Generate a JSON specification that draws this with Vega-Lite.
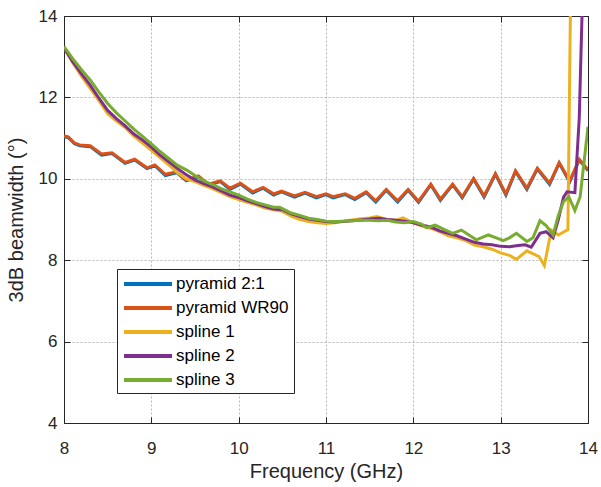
{
  "$schema": "https://vega.github.io/schema/vega-lite/v6.json",
  "width": 524,
  "height": 407,
  "autosize": "none",
  "padding": {"left": 64, "top": 16, "right": 13, "bottom": 64},
  "background": "white",
  "config": {
    "font": "Liberation Sans",
    "view": {"stroke": "#262626", "strokeWidth": 1}
  },
  "datasets": {
    "d": [
      {"f": 8.0, "s": "pyramid 2:1", "v": 11.04}, {"f": 8.05, "s": "pyramid 2:1", "v": 11.01}, {"f": 8.12, "s": "pyramid 2:1", "v": 10.86}, {"f": 8.18, "s": "pyramid 2:1", "v": 10.81}, {"f": 8.3, "s": "pyramid 2:1", "v": 10.79}, {"f": 8.43, "s": "pyramid 2:1", "v": 10.58}, {"f": 8.55, "s": "pyramid 2:1", "v": 10.62}, {"f": 8.7, "s": "pyramid 2:1", "v": 10.38}, {"f": 8.81, "s": "pyramid 2:1", "v": 10.46}, {"f": 8.95, "s": "pyramid 2:1", "v": 10.25}, {"f": 9.04, "s": "pyramid 2:1", "v": 10.32}, {"f": 9.16, "s": "pyramid 2:1", "v": 10.08}, {"f": 9.29, "s": "pyramid 2:1", "v": 10.15}, {"f": 9.4, "s": "pyramid 2:1", "v": 9.95}, {"f": 9.54, "s": "pyramid 2:1", "v": 10.05}, {"f": 9.65, "s": "pyramid 2:1", "v": 9.84}, {"f": 9.79, "s": "pyramid 2:1", "v": 9.93}, {"f": 9.9, "s": "pyramid 2:1", "v": 9.74}, {"f": 10.02, "s": "pyramid 2:1", "v": 9.87}, {"f": 10.16, "s": "pyramid 2:1", "v": 9.65}, {"f": 10.28, "s": "pyramid 2:1", "v": 9.77}, {"f": 10.4, "s": "pyramid 2:1", "v": 9.6}, {"f": 10.49, "s": "pyramid 2:1", "v": 9.68}, {"f": 10.64, "s": "pyramid 2:1", "v": 9.55}, {"f": 10.76, "s": "pyramid 2:1", "v": 9.65}, {"f": 10.89, "s": "pyramid 2:1", "v": 9.53}, {"f": 11.0, "s": "pyramid 2:1", "v": 9.61}, {"f": 11.08, "s": "pyramid 2:1", "v": 9.53}, {"f": 11.22, "s": "pyramid 2:1", "v": 9.61}, {"f": 11.33, "s": "pyramid 2:1", "v": 9.49}, {"f": 11.46, "s": "pyramid 2:1", "v": 9.66}, {"f": 11.57, "s": "pyramid 2:1", "v": 9.43}, {"f": 11.69, "s": "pyramid 2:1", "v": 9.72}, {"f": 11.82, "s": "pyramid 2:1", "v": 9.43}, {"f": 11.94, "s": "pyramid 2:1", "v": 9.72}, {"f": 12.06, "s": "pyramid 2:1", "v": 9.42}, {"f": 12.2, "s": "pyramid 2:1", "v": 9.85}, {"f": 12.31, "s": "pyramid 2:1", "v": 9.47}, {"f": 12.45, "s": "pyramid 2:1", "v": 9.85}, {"f": 12.56, "s": "pyramid 2:1", "v": 9.53}, {"f": 12.69, "s": "pyramid 2:1", "v": 9.99}, {"f": 12.81, "s": "pyramid 2:1", "v": 9.55}, {"f": 12.94, "s": "pyramid 2:1", "v": 10.11}, {"f": 13.06, "s": "pyramid 2:1", "v": 9.6}, {"f": 13.17, "s": "pyramid 2:1", "v": 10.18}, {"f": 13.3, "s": "pyramid 2:1", "v": 9.74}, {"f": 13.42, "s": "pyramid 2:1", "v": 10.24}, {"f": 13.56, "s": "pyramid 2:1", "v": 9.86}, {"f": 13.67, "s": "pyramid 2:1", "v": 10.38}, {"f": 13.79, "s": "pyramid 2:1", "v": 9.92}, {"f": 13.9, "s": "pyramid 2:1", "v": 10.46}, {"f": 14.0, "s": "pyramid 2:1", "v": 10.2},

      {"f": 8.0, "s": "pyramid WR90", "v": 11.05}, {"f": 8.05, "s": "pyramid WR90", "v": 11.03}, {"f": 8.12, "s": "pyramid WR90", "v": 10.88}, {"f": 8.18, "s": "pyramid WR90", "v": 10.83}, {"f": 8.3, "s": "pyramid WR90", "v": 10.81}, {"f": 8.43, "s": "pyramid WR90", "v": 10.61}, {"f": 8.55, "s": "pyramid WR90", "v": 10.64}, {"f": 8.7, "s": "pyramid WR90", "v": 10.4}, {"f": 8.81, "s": "pyramid WR90", "v": 10.48}, {"f": 8.95, "s": "pyramid WR90", "v": 10.27}, {"f": 9.04, "s": "pyramid WR90", "v": 10.34}, {"f": 9.16, "s": "pyramid WR90", "v": 10.11}, {"f": 9.29, "s": "pyramid WR90", "v": 10.17}, {"f": 9.4, "s": "pyramid WR90", "v": 9.97}, {"f": 9.54, "s": "pyramid WR90", "v": 10.07}, {"f": 9.65, "s": "pyramid WR90", "v": 9.87}, {"f": 9.79, "s": "pyramid WR90", "v": 9.95}, {"f": 9.9, "s": "pyramid WR90", "v": 9.77}, {"f": 10.02, "s": "pyramid WR90", "v": 9.89}, {"f": 10.16, "s": "pyramid WR90", "v": 9.68}, {"f": 10.28, "s": "pyramid WR90", "v": 9.79}, {"f": 10.4, "s": "pyramid WR90", "v": 9.63}, {"f": 10.49, "s": "pyramid WR90", "v": 9.7}, {"f": 10.64, "s": "pyramid WR90", "v": 9.58}, {"f": 10.76, "s": "pyramid WR90", "v": 9.67}, {"f": 10.89, "s": "pyramid WR90", "v": 9.56}, {"f": 11.0, "s": "pyramid WR90", "v": 9.63}, {"f": 11.08, "s": "pyramid WR90", "v": 9.56}, {"f": 11.22, "s": "pyramid WR90", "v": 9.63}, {"f": 11.33, "s": "pyramid WR90", "v": 9.52}, {"f": 11.46, "s": "pyramid WR90", "v": 9.68}, {"f": 11.57, "s": "pyramid WR90", "v": 9.46}, {"f": 11.69, "s": "pyramid WR90", "v": 9.74}, {"f": 11.82, "s": "pyramid WR90", "v": 9.46}, {"f": 11.94, "s": "pyramid WR90", "v": 9.74}, {"f": 12.06, "s": "pyramid WR90", "v": 9.45}, {"f": 12.2, "s": "pyramid WR90", "v": 9.87}, {"f": 12.31, "s": "pyramid WR90", "v": 9.5}, {"f": 12.45, "s": "pyramid WR90", "v": 9.87}, {"f": 12.56, "s": "pyramid WR90", "v": 9.56}, {"f": 12.69, "s": "pyramid WR90", "v": 10.01}, {"f": 12.81, "s": "pyramid WR90", "v": 9.58}, {"f": 12.94, "s": "pyramid WR90", "v": 10.13}, {"f": 13.06, "s": "pyramid WR90", "v": 9.63}, {"f": 13.17, "s": "pyramid WR90", "v": 10.2}, {"f": 13.3, "s": "pyramid WR90", "v": 9.77}, {"f": 13.42, "s": "pyramid WR90", "v": 10.26}, {"f": 13.56, "s": "pyramid WR90", "v": 9.89}, {"f": 13.67, "s": "pyramid WR90", "v": 10.4}, {"f": 13.79, "s": "pyramid WR90", "v": 9.95}, {"f": 13.9, "s": "pyramid WR90", "v": 10.48}, {"f": 14.0, "s": "pyramid WR90", "v": 10.22},

      {"f": 8.0, "s": "spline 1", "v": 13.22}, {"f": 8.1, "s": "spline 1", "v": 12.85}, {"f": 8.2, "s": "spline 1", "v": 12.52}, {"f": 8.3, "s": "spline 1", "v": 12.22}, {"f": 8.4, "s": "spline 1", "v": 11.92}, {"f": 8.5, "s": "spline 1", "v": 11.6}, {"f": 8.6, "s": "spline 1", "v": 11.42}, {"f": 8.7, "s": "spline 1", "v": 11.26}, {"f": 8.8, "s": "spline 1", "v": 11.05}, {"f": 8.9, "s": "spline 1", "v": 10.88}, {"f": 9.0, "s": "spline 1", "v": 10.7}, {"f": 9.1, "s": "spline 1", "v": 10.52}, {"f": 9.2, "s": "spline 1", "v": 10.34}, {"f": 9.3, "s": "spline 1", "v": 10.15}, {"f": 9.4, "s": "spline 1", "v": 10.0}, {"f": 9.5, "s": "spline 1", "v": 9.93}, {"f": 9.6, "s": "spline 1", "v": 9.84}, {"f": 9.7, "s": "spline 1", "v": 9.76}, {"f": 9.8, "s": "spline 1", "v": 9.66}, {"f": 9.9, "s": "spline 1", "v": 9.56}, {"f": 10.0, "s": "spline 1", "v": 9.49}, {"f": 10.1, "s": "spline 1", "v": 9.42}, {"f": 10.2, "s": "spline 1", "v": 9.36}, {"f": 10.3, "s": "spline 1", "v": 9.28}, {"f": 10.4, "s": "spline 1", "v": 9.24}, {"f": 10.5, "s": "spline 1", "v": 9.2}, {"f": 10.6, "s": "spline 1", "v": 9.08}, {"f": 10.7, "s": "spline 1", "v": 9.0}, {"f": 10.8, "s": "spline 1", "v": 8.95}, {"f": 10.9, "s": "spline 1", "v": 8.92}, {"f": 11.0, "s": "spline 1", "v": 8.9}, {"f": 11.1, "s": "spline 1", "v": 8.92}, {"f": 11.2, "s": "spline 1", "v": 8.96}, {"f": 11.3, "s": "spline 1", "v": 8.99}, {"f": 11.4, "s": "spline 1", "v": 9.02}, {"f": 11.5, "s": "spline 1", "v": 9.04}, {"f": 11.58, "s": "spline 1", "v": 9.07}, {"f": 11.7, "s": "spline 1", "v": 9.0}, {"f": 11.8, "s": "spline 1", "v": 8.98}, {"f": 11.88, "s": "spline 1", "v": 9.04}, {"f": 12.0, "s": "spline 1", "v": 8.92}, {"f": 12.1, "s": "spline 1", "v": 8.84}, {"f": 12.2, "s": "spline 1", "v": 8.78}, {"f": 12.3, "s": "spline 1", "v": 8.7}, {"f": 12.4, "s": "spline 1", "v": 8.6}, {"f": 12.5, "s": "spline 1", "v": 8.55}, {"f": 12.6, "s": "spline 1", "v": 8.48}, {"f": 12.7, "s": "spline 1", "v": 8.37}, {"f": 12.8, "s": "spline 1", "v": 8.33}, {"f": 12.9, "s": "spline 1", "v": 8.27}, {"f": 13.0, "s": "spline 1", "v": 8.18}, {"f": 13.1, "s": "spline 1", "v": 8.12}, {"f": 13.18, "s": "spline 1", "v": 8.02}, {"f": 13.3, "s": "spline 1", "v": 8.23}, {"f": 13.44, "s": "spline 1", "v": 8.09}, {"f": 13.5, "s": "spline 1", "v": 7.87}, {"f": 13.58, "s": "spline 1", "v": 8.74}, {"f": 13.66, "s": "spline 1", "v": 8.62}, {"f": 13.77, "s": "spline 1", "v": 8.75}, {"f": 13.83, "s": "spline 1", "v": 20.0},

      {"f": 8.0, "s": "spline 2", "v": 13.22}, {"f": 8.1, "s": "spline 2", "v": 12.88}, {"f": 8.2, "s": "spline 2", "v": 12.58}, {"f": 8.3, "s": "spline 2", "v": 12.3}, {"f": 8.4, "s": "spline 2", "v": 11.98}, {"f": 8.5, "s": "spline 2", "v": 11.68}, {"f": 8.6, "s": "spline 2", "v": 11.48}, {"f": 8.7, "s": "spline 2", "v": 11.3}, {"f": 8.8, "s": "spline 2", "v": 11.1}, {"f": 8.9, "s": "spline 2", "v": 10.95}, {"f": 9.0, "s": "spline 2", "v": 10.78}, {"f": 9.1, "s": "spline 2", "v": 10.58}, {"f": 9.2, "s": "spline 2", "v": 10.42}, {"f": 9.3, "s": "spline 2", "v": 10.25}, {"f": 9.4, "s": "spline 2", "v": 10.1}, {"f": 9.5, "s": "spline 2", "v": 9.97}, {"f": 9.6, "s": "spline 2", "v": 9.88}, {"f": 9.7, "s": "spline 2", "v": 9.8}, {"f": 9.8, "s": "spline 2", "v": 9.7}, {"f": 9.9, "s": "spline 2", "v": 9.6}, {"f": 10.0, "s": "spline 2", "v": 9.54}, {"f": 10.1, "s": "spline 2", "v": 9.46}, {"f": 10.2, "s": "spline 2", "v": 9.39}, {"f": 10.3, "s": "spline 2", "v": 9.32}, {"f": 10.4, "s": "spline 2", "v": 9.26}, {"f": 10.5, "s": "spline 2", "v": 9.24}, {"f": 10.6, "s": "spline 2", "v": 9.14}, {"f": 10.7, "s": "spline 2", "v": 9.07}, {"f": 10.8, "s": "spline 2", "v": 9.01}, {"f": 10.9, "s": "spline 2", "v": 8.98}, {"f": 11.0, "s": "spline 2", "v": 8.95}, {"f": 11.1, "s": "spline 2", "v": 8.94}, {"f": 11.2, "s": "spline 2", "v": 8.95}, {"f": 11.3, "s": "spline 2", "v": 8.97}, {"f": 11.4, "s": "spline 2", "v": 8.99}, {"f": 11.5, "s": "spline 2", "v": 9.01}, {"f": 11.6, "s": "spline 2", "v": 9.03}, {"f": 11.7, "s": "spline 2", "v": 9.0}, {"f": 11.8, "s": "spline 2", "v": 8.98}, {"f": 11.9, "s": "spline 2", "v": 8.96}, {"f": 12.0, "s": "spline 2", "v": 8.92}, {"f": 12.1, "s": "spline 2", "v": 8.86}, {"f": 12.2, "s": "spline 2", "v": 8.82}, {"f": 12.3, "s": "spline 2", "v": 8.72}, {"f": 12.4, "s": "spline 2", "v": 8.66}, {"f": 12.5, "s": "spline 2", "v": 8.6}, {"f": 12.6, "s": "spline 2", "v": 8.52}, {"f": 12.7, "s": "spline 2", "v": 8.44}, {"f": 12.8, "s": "spline 2", "v": 8.4}, {"f": 12.9, "s": "spline 2", "v": 8.38}, {"f": 13.0, "s": "spline 2", "v": 8.34}, {"f": 13.1, "s": "spline 2", "v": 8.33}, {"f": 13.2, "s": "spline 2", "v": 8.36}, {"f": 13.28, "s": "spline 2", "v": 8.38}, {"f": 13.35, "s": "spline 2", "v": 8.32}, {"f": 13.45, "s": "spline 2", "v": 8.66}, {"f": 13.52, "s": "spline 2", "v": 8.7}, {"f": 13.6, "s": "spline 2", "v": 8.55}, {"f": 13.66, "s": "spline 2", "v": 9.0}, {"f": 13.72, "s": "spline 2", "v": 9.55}, {"f": 13.76, "s": "spline 2", "v": 9.68}, {"f": 13.85, "s": "spline 2", "v": 9.66}, {"f": 13.9, "s": "spline 2", "v": 11.5}, {"f": 13.95, "s": "spline 2", "v": 15.5},

      {"f": 8.0, "s": "spline 3", "v": 13.25}, {"f": 8.1, "s": "spline 3", "v": 12.95}, {"f": 8.2, "s": "spline 3", "v": 12.68}, {"f": 8.3, "s": "spline 3", "v": 12.43}, {"f": 8.4, "s": "spline 3", "v": 12.13}, {"f": 8.5, "s": "spline 3", "v": 11.85}, {"f": 8.6, "s": "spline 3", "v": 11.62}, {"f": 8.7, "s": "spline 3", "v": 11.42}, {"f": 8.8, "s": "spline 3", "v": 11.22}, {"f": 8.9, "s": "spline 3", "v": 11.04}, {"f": 9.0, "s": "spline 3", "v": 10.86}, {"f": 9.1, "s": "spline 3", "v": 10.67}, {"f": 9.2, "s": "spline 3", "v": 10.5}, {"f": 9.3, "s": "spline 3", "v": 10.33}, {"f": 9.4, "s": "spline 3", "v": 10.22}, {"f": 9.5, "s": "spline 3", "v": 10.08}, {"f": 9.6, "s": "spline 3", "v": 9.95}, {"f": 9.7, "s": "spline 3", "v": 9.86}, {"f": 9.8, "s": "spline 3", "v": 9.76}, {"f": 9.9, "s": "spline 3", "v": 9.68}, {"f": 10.0, "s": "spline 3", "v": 9.6}, {"f": 10.1, "s": "spline 3", "v": 9.5}, {"f": 10.2, "s": "spline 3", "v": 9.42}, {"f": 10.3, "s": "spline 3", "v": 9.36}, {"f": 10.4, "s": "spline 3", "v": 9.3}, {"f": 10.47, "s": "spline 3", "v": 9.3}, {"f": 10.6, "s": "spline 3", "v": 9.16}, {"f": 10.7, "s": "spline 3", "v": 9.1}, {"f": 10.8, "s": "spline 3", "v": 9.03}, {"f": 10.9, "s": "spline 3", "v": 9.0}, {"f": 11.0, "s": "spline 3", "v": 8.96}, {"f": 11.1, "s": "spline 3", "v": 8.95}, {"f": 11.2, "s": "spline 3", "v": 8.96}, {"f": 11.3, "s": "spline 3", "v": 8.97}, {"f": 11.4, "s": "spline 3", "v": 8.98}, {"f": 11.5, "s": "spline 3", "v": 8.98}, {"f": 11.6, "s": "spline 3", "v": 8.97}, {"f": 11.7, "s": "spline 3", "v": 8.98}, {"f": 11.8, "s": "spline 3", "v": 8.94}, {"f": 11.9, "s": "spline 3", "v": 8.92}, {"f": 12.0, "s": "spline 3", "v": 8.95}, {"f": 12.1, "s": "spline 3", "v": 8.88}, {"f": 12.15, "s": "spline 3", "v": 8.8}, {"f": 12.25, "s": "spline 3", "v": 8.86}, {"f": 12.35, "s": "spline 3", "v": 8.76}, {"f": 12.45, "s": "spline 3", "v": 8.66}, {"f": 12.55, "s": "spline 3", "v": 8.74}, {"f": 12.65, "s": "spline 3", "v": 8.6}, {"f": 12.72, "s": "spline 3", "v": 8.5}, {"f": 12.86, "s": "spline 3", "v": 8.62}, {"f": 12.95, "s": "spline 3", "v": 8.55}, {"f": 13.03, "s": "spline 3", "v": 8.48}, {"f": 13.1, "s": "spline 3", "v": 8.55}, {"f": 13.18, "s": "spline 3", "v": 8.66}, {"f": 13.3, "s": "spline 3", "v": 8.46}, {"f": 13.37, "s": "spline 3", "v": 8.55}, {"f": 13.45, "s": "spline 3", "v": 8.97}, {"f": 13.52, "s": "spline 3", "v": 8.85}, {"f": 13.6, "s": "spline 3", "v": 8.62}, {"f": 13.66, "s": "spline 3", "v": 9.1}, {"f": 13.72, "s": "spline 3", "v": 9.44}, {"f": 13.78, "s": "spline 3", "v": 9.56}, {"f": 13.85, "s": "spline 3", "v": 9.22}, {"f": 13.91, "s": "spline 3", "v": 9.56}, {"f": 14.0, "s": "spline 3", "v": 11.28}
    ]
  },
  "data": {"name": "d"},
  "layer": [
    {
      "mark": {"type": "line", "clip": true, "strokeWidth": 3},
      "encoding": {
        "x": {
          "field": "f", "type": "quantitative",
          "scale": {"domain": [8, 14], "nice": false, "zero": false},
          "axis": {
            "title": "Frequency (GHz)", "titleFontSize": 20, "titleFontWeight": "normal", "titleColor": "#262626", "titlePadding": 5,
            "values": [8, 9, 10, 11, 12, 13, 14], "format": "d",
            "labelFontSize": 17, "labelColor": "#262626", "labelPadding": 23,
            "tickSize": -6, "tickColor": "#262626", "domainColor": "#262626",
            "grid": true, "gridColor": "#b8b8b8", "gridDash": [2, 2], "gridWidth": 1,
            "labelFlush": false
          }
        },
        "y": {
          "field": "v", "type": "quantitative",
          "scale": {"domain": [4, 14], "nice": false, "zero": false},
          "axis": {
            "title": "3dB beamwidth (°)", "titleFontSize": 20, "titleFontWeight": "normal", "titleColor": "#262626", "titlePadding": 12,
            "values": [4, 6, 8, 10, 12, 14], "format": "d",
            "labelFontSize": 17, "labelColor": "#262626", "labelPadding": 13,
            "tickSize": -6, "tickColor": "#262626", "domainColor": "#262626",
            "grid": true, "gridColor": "#b8b8b8", "gridDash": [2, 2], "gridWidth": 1,
            "labelFlush": false
          }
        },
        "color": {
          "field": "s", "type": "nominal",
          "scale": {
            "domain": ["pyramid 2:1", "pyramid WR90", "spline 1", "spline 2", "spline 3"],
            "range": ["#0072BD", "#D95319", "#EDB120", "#7E2F8E", "#77AC30"]
          },
          "legend": {
            "title": null, "orient": "none", "legendX": 53, "legendY": 253,
            "symbolType": "M-3,0H3", "symbolSize": 256, "symbolStrokeWidth": 4, "symbolOffset": 16,
            "labelFontSize": 17, "labelColor": "#000000", "labelOffset": 18,
            "strokeColor": "#262626", "fillColor": "white", "padding": 5, "rowPadding": 6
          }
        }
      }
    },
    {
      "mark": {"type": "line", "opacity": 0},
      "encoding": {
        "x": {
          "field": "f", "type": "quantitative",
          "scale": {"domain": [8, 14], "nice": false, "zero": false},
          "axis": {"orient": "top", "title": null, "labels": false, "grid": false, "values": [8, 9, 10, 11, 12, 13, 14], "tickSize": -6, "tickColor": "#262626", "domainColor": "#262626"}
        },
        "y": {
          "field": "v", "type": "quantitative",
          "scale": {"domain": [4, 14], "nice": false, "zero": false},
          "axis": {"orient": "right", "title": null, "labels": false, "grid": false, "values": [4, 6, 8, 10, 12, 14], "tickSize": -6, "tickColor": "#262626", "domainColor": "#262626"}
        },
        "detail": {"field": "s"}
      }
    }
  ],
  "resolve": {"axis": {"x": "independent", "y": "independent"}}
}
